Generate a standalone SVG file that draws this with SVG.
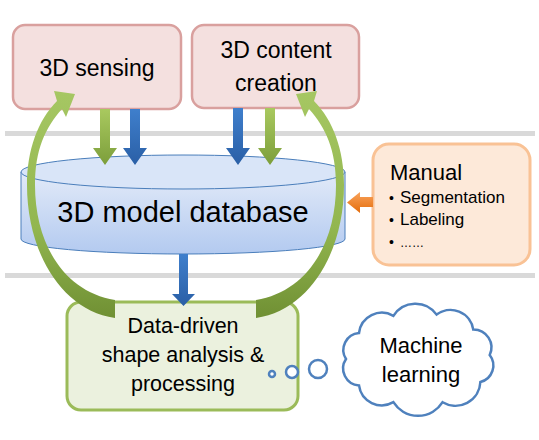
<svg xmlns="http://www.w3.org/2000/svg" xmlns:xlink="http://www.w3.org/1999/xlink" width="539" height="440" viewBox="0 0 539 440">
<style>
text{font-family:"Liberation Sans",Arial,sans-serif;fill:#000}
.c{text-anchor:middle}
.pink{fill:#f4e0df;stroke:#d9a09e;stroke-width:2.5}
.sep{fill:#d9d9d9}
</style>
<defs>
<linearGradient id="cyl" x1="0" y1="0" x2="0" y2="1"><stop offset="0" stop-color="#e2eaf8"/><stop offset="1" stop-color="#b3caf0"/></linearGradient>
<linearGradient id="gdown" x1="0" y1="0" x2="0" y2="1"><stop offset="0" stop-color="#a9c95f"/><stop offset="1" stop-color="#7c9e3b"/></linearGradient>
<linearGradient id="bdown" x1="0" y1="0" x2="0" y2="1"><stop offset="0" stop-color="#3f7fcc"/><stop offset="1" stop-color="#2a5fa6"/></linearGradient>
<linearGradient id="orng" x1="0" y1="0" x2="0" y2="1"><stop offset="0" stop-color="#f9a35c"/><stop offset="1" stop-color="#e46c0a"/></linearGradient>
<linearGradient id="garc" gradientUnits="userSpaceOnUse" x1="0" y1="90" x2="0" y2="320"><stop offset="0" stop-color="#a6c763"/><stop offset="0.6" stop-color="#92b64f"/><stop offset="1" stop-color="#6f8f33"/></linearGradient>
<path id="arc" d="M115,318 C60,310 27,250 27,185 C27,150 38,120 57,101 L54,91 L75,94 L66,117 L62,109 C45,128 35,150 35,185 C35,245 65,292 115,300 Z" fill="url(#garc)"/>
</defs>
<rect width="539" height="440" fill="#fff"/>
<rect class="sep" x="5" y="131" width="530" height="5"/>
<rect class="sep" x="5" y="273" width="530" height="5"/>

<g id="sensing">
<rect class="pink" x="13" y="25" width="168" height="84" rx="12"/>
<text class="c" x="97" y="76" font-size="23">3D sensing</text>
</g>
<g id="creation">
<rect class="pink" x="192" y="25" width="167" height="83" rx="12"/>
<text class="c" x="276" y="58" font-size="23">3D content</text>
<text class="c" x="276" y="91" font-size="23">creation</text>
</g>
<g id="database">
<path d="M21,172 V239 A162,15 0 0 0 345,239 V172 Z" fill="url(#cyl)" stroke="#4a7ebb" stroke-width="1"/>
<ellipse cx="183" cy="172" rx="162" ry="17" fill="#d9e5f8" stroke="#4a7ebb" stroke-width="1"/>
<text class="c" x="183" y="222" font-size="29">3D model database</text>
</g>
<g id="manual">
<rect x="373" y="144" width="157" height="121" rx="16" fill="#fde9d9" stroke="#f9c295" stroke-width="3"/>
<text x="390" y="180" font-size="22">Manual</text>
<text x="389" y="203" font-size="14">•</text>
<text x="400" y="203" font-size="17">Segmentation</text>
<text x="389" y="225" font-size="14">•</text>
<text x="400" y="225" font-size="17">Labeling</text>
<text x="389" y="247" font-size="14">•</text>
<text x="400" y="247" font-size="12">……</text>
</g>
<g id="analysis">
<rect x="67" y="302" width="231" height="108" rx="14" fill="#ebf1de" stroke="#9bbb59" stroke-width="3"/>
<text class="c" x="183" y="333" font-size="21.5">Data-driven</text>
<text class="c" x="183" y="362" font-size="21.5">shape analysis &amp;</text>
<text class="c" x="183" y="391" font-size="21.5">processing</text>
</g>
<g id="learning">
<g fill="#fff" stroke="#4f81bd" stroke-width="2.5">
<path d="M346,359 A17,17 0 0 1 359,333 A23,23 0 0 1 393.4,315.8 A26,26 0 0 1 436.6,314.6 A23,23 0 0 1 473.2,329.4 A18,18 0 0 1 489.7,355 A17,17 0 0 1 480.4,382 A25,25 0 0 1 442.6,402.2 A29,29 0 0 1 393.4,402.2 A23,23 0 0 1 359,385.4 A17,17 0 0 1 346,359 Z"/>
<circle cx="272" cy="374" r="3"/>
<circle cx="292" cy="372" r="6"/>
<circle cx="318" cy="369" r="9"/>
</g>
<text class="c" x="421" y="353" font-size="22">Machine</text>
<text class="c" x="421" y="382" font-size="22">learning</text>
</g>

<g id="connectors">
<path d="M100,109 H110 V148 H117 L105,165 L93,148 H100 Z" fill="url(#gdown)"/>
<path d="M130,109 H140 V148 H147 L135,165 L123,148 H130 Z" fill="url(#bdown)"/>
<path d="M233,108 H243 V148 H250 L238,165 L226,148 H233 Z" fill="url(#bdown)"/>
<path d="M265,108 H275 V148 H282 L270,165 L258,148 H265 Z" fill="url(#gdown)"/>
<path d="M179,254 H188 V294 H195 L183.5,306 L172,294 H179 Z" fill="url(#bdown)"/>
<path d="M373,197 H360 V192 L347,202.5 L360,213 V207 H373 Z" fill="url(#orng)"/>
<use xlink:href="#arc"/>
<use xlink:href="#arc" transform="translate(371,0) scale(-1,1)"/>
</g>
</svg>
